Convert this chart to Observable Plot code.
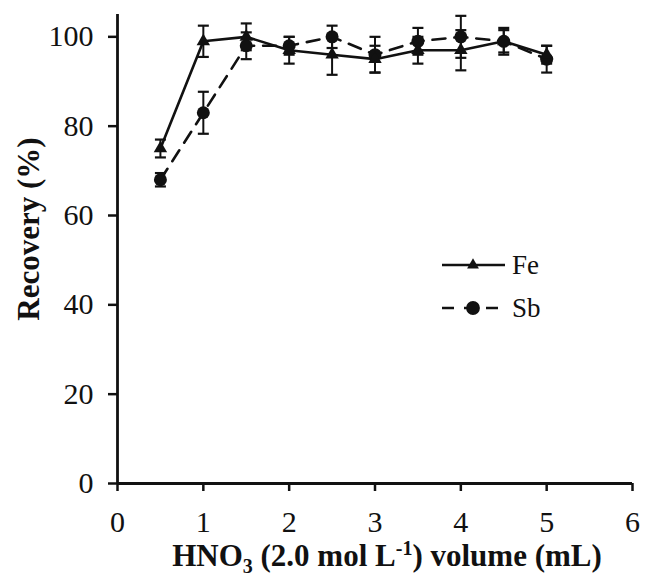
<!DOCTYPE html>
<html>
<head>
<meta charset="utf-8">
<script src="https://cdn.jsdelivr.net/npm/d3@7"></script>
<script src="https://cdn.jsdelivr.net/npm/@observablehq/plot@0.6"></script>
<style>
  body { margin: 0; background: #fff; }
  #chart { position: relative; width: 651px; height: 577px; }
  #chart svg, #chart svg text { font-family: "Liberation Serif", "Times New Roman", Times, serif; }
</style>
</head>
<body>
<div id="chart"></div>
<script>
// Data
const volumes = [0.5, 1, 1.5, 2, 2.5, 3, 3.5, 4, 4.5, 5];
const feRecovery = [75, 99, 100, 97, 96, 95, 97, 97, 99, 96];
const feError    = [2, 3.5, 3, 3, 4.5, 3, 3, 4.5, 3, 2];
const sbRecovery = [68, 83, 98, 98, 100, 96, 99, 100, 99, 95];
const sbError    = [1.5, 4.7, 3, 2, 2.5, 4, 3, 4.7, 2.5, 3];
const xTicks = [0, 1, 2, 3, 4, 5, 6];
const yTicks = [0, 20, 40, 60, 80, 100];
const seriesNames = ["Fe", "Sb"];

const fe = volumes.map((v, i) => ({x: v, y: feRecovery[i], lo: feRecovery[i] - feError[i], hi: feRecovery[i] + feError[i]}));
const sb = volumes.map((v, i) => ({x: v, y: sbRecovery[i], lo: sbRecovery[i] - sbError[i], hi: sbRecovery[i] + sbError[i]}));

const capSymbol = { draw(ctx) { ctx.moveTo(-5.5, 0); ctx.lineTo(5.5, 0); } };
const font = "'Liberation Serif', 'Times New Roman', Times, serif";
const ink = "#111";

function errorMarks(data) {
  return [
    Plot.ruleX(data, {x: "x", y1: "lo", y2: "hi", stroke: ink, strokeWidth: 2}),
    Plot.dot(data, {x: "x", y: "lo", symbol: capSymbol, stroke: ink, strokeWidth: 2.2, r: 5}),
    Plot.dot(data, {x: "x", y: "hi", symbol: capSymbol, stroke: ink, strokeWidth: 2.2, r: 5})
  ];
}

const plot = Plot.plot({
  width: 651,
  height: 577,
  marginLeft: 117,
  marginRight: 19,
  marginTop: 14,
  marginBottom: 94,
  style: { fontFamily: font, fontSize: "30px", background: "#fff", color: ink },
  x: { domain: [0, 6] },
  y: { domain: [0, 105] },
  marks: [
    Plot.axisX({ticks: xTicks, tickSize: 8, tickPadding: 19, fontSize: 30, label: null, stroke: ink, strokeWidth: 2.5, tickFormat: d => d}),
    Plot.axisY({ticks: yTicks, tickSize: 9, tickPadding: 15, fontSize: 30, label: null, stroke: ink, strokeWidth: 2.5, tickFormat: d => d}),
    Plot.ruleX([0], {stroke: ink, strokeWidth: 2.8}),
    Plot.ruleY([0], {stroke: ink, strokeWidth: 2.8}),
    Plot.line(sb, {x: "x", y: "y", stroke: ink, strokeWidth: 2.6, strokeDasharray: "13,9"}),
    Plot.line(fe, {x: "x", y: "y", stroke: ink, strokeWidth: 2.6}),
    ...errorMarks(sb),
    ...errorMarks(fe),
    Plot.dot(sb, {x: "x", y: "y", symbol: "circle", fill: ink, r: 6.5}),
    Plot.dot(fe, {x: "x", y: "y", symbol: "triangle2", fill: ink, r: 6.4})
  ]
});

document.getElementById("chart").appendChild(plot);
const svg = d3.select(plot);

// Axis titles
const xl = svg.append("text")
  .attr("x", 387).attr("y", 566)
  .attr("text-anchor", "middle")
  .attr("font-family", font).attr("font-weight", "bold").attr("font-size", 31)
  .attr("fill", ink);
xl.append("tspan").text("HNO");
xl.append("tspan").attr("font-size", 20).attr("dy", 7).text("3");
xl.append("tspan").attr("dy", -7).text(" (2.0 mol L");
xl.append("tspan").attr("font-size", 20).attr("dy", -11).text("-1");
xl.append("tspan").attr("dy", 11).text(") volume (mL)");

svg.append("text")
  .attr("transform", "translate(39,229) rotate(-90)")
  .attr("text-anchor", "middle")
  .attr("font-family", font).attr("font-weight", "bold").attr("font-size", 31)
  .attr("fill", ink)
  .text("Recovery (%)");

// Legend
const leg = svg.append("g");
const rows = [
  {name: seriesNames[0], y: 265, dash: null, sym: "triangle"},
  {name: seriesNames[1], y: 308, dash: "12,10", sym: "circle"}
];
rows.forEach(r => {
  leg.append("line").attr("x1", 442).attr("x2", 505).attr("y1", r.y).attr("y2", r.y)
    .attr("stroke", ink).attr("stroke-width", 2.6).attr("stroke-dasharray", r.dash);
  const s = r.sym === "triangle" ? d3.symbolTriangle2 : d3.symbolCircle;
  leg.append("path").attr("d", d3.symbol(s, r.sym === "triangle" ? 100 : 150)())
    .attr("transform", `translate(473,${r.y})`).attr("fill", ink);
  leg.append("text").attr("x", 512).attr("y", r.y + 9)
    .attr("text-anchor", "start")
    .attr("font-family", font).attr("font-size", 27).attr("fill", ink).text(r.name);
});
</script>
</body>
</html>
